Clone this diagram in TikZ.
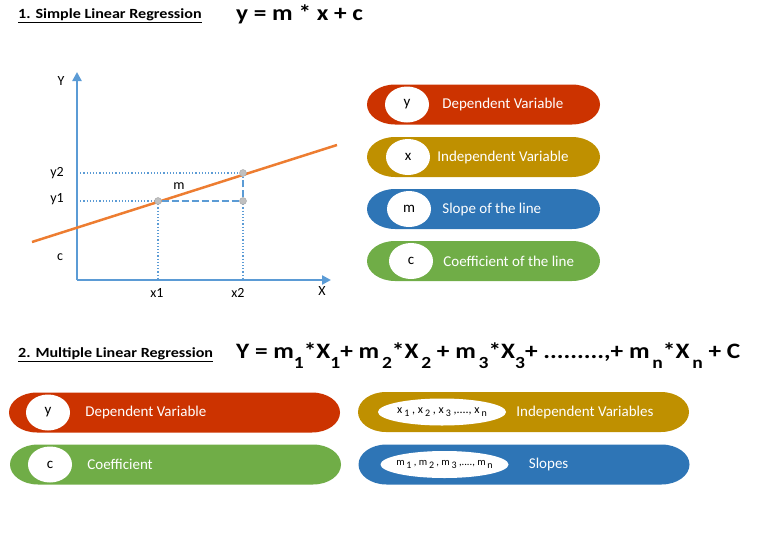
\documentclass[tikz,border=0pt]{standalone}
\usepackage{fontspec}
\setmainfont{Carlito}
\newfontfamily\widefont{Carlito}[FakeStretch=1.15]
\usetikzlibrary{positioning,shapes.geometric,arrows.meta}
\definecolor{RegRed}{RGB}{204,51,0}
\definecolor{RegGold}{RGB}{191,144,0}
\definecolor{RegBlue}{RGB}{46,117,182}
\definecolor{RegGreen}{RGB}{112,173,71}
\definecolor{AxisBlue}{RGB}{91,155,213}
\definecolor{LineOrange}{RGB}{237,125,49}
\definecolor{DotGray}{RGB}{165,165,165}
\newcommand{\lowsub}[1]{\raisebox{-10pt}{\fontsize{17}{17}\selectfont #1}}
\newcommand{\knobsub}[1]{\,\raisebox{-3pt}{\fontsize{10}{11}\selectfont #1}}

\begin{document}
\begin{tikzpicture}[x=1pt, y=-1pt,
  every node/.style={font=\fontsize{14}{16}\selectfont},
  heading/.style={font=\fontsize{14}{16}\selectfont\widefont\bfseries, anchor=base west, inner sep=0pt},
  formula/.style={font=\fontsize{22}{24}\selectfont\widefont\bfseries, anchor=base west, inner sep=0pt},
  axis/.style={-{Triangle[length=9pt, width=9pt]}, line width=2.5pt, AxisBlue},
  guide/.style={AxisBlue, line width=1.2pt, dotted},
  rise/.style={AxisBlue, line width=2.5pt, dash pattern=on 7pt off 3pt},
  fitline/.style={LineOrange, line width=2.5pt},
  dot/.style={circle, fill=DotGray!70, draw=DotGray, minimum size=7pt, inner sep=0pt},
  pill/.style={minimum width=233pt, minimum height=40pt, inner sep=0pt,
    path picture={\fill[#1] ([xshift=28pt]path picture bounding box.north west)
      -- ([xshift=-28pt]path picture bounding box.north east)
      arc[start angle=90, end angle=-90, x radius=28pt, y radius=20pt]
      -- ([xshift=28pt]path picture bounding box.south west)
      arc[start angle=270, end angle=90, x radius=28pt, y radius=20pt] -- cycle;}},
  widepill/.style={pill=#1, minimum width=331pt},
  knob/.style={ellipse, fill=white, minimum width=44pt, minimum height=36pt, inner sep=0pt, font=\fontsize{15}{17}\selectfont},
  wideknob/.style={ellipse, fill=white, minimum width=128pt, minimum height=27pt, inner xsep=-20pt, inner ysep=0pt, font=\fontsize{12}{13}\selectfont},
  pilltext/.style={text=white, font=\fontsize{15}{17}\selectfont, anchor=west, inner sep=0pt}
]
\useasboundingbox (0,0) rectangle (769,536);

% section 1
\node[heading] (t1) at (18,18) {\underline{1. Simple Linear Regression}};
\node[formula] (f1) at (236,20) {y = m * x + c};

% chart
\coordinate (org) at (77,280);
\coordinate (ytip) at (77,72);
\coordinate (xtip) at (331,280);
\coordinate (lstart) at (32,242);
\coordinate (lend) at (337,145);
\coordinate (h1) at (77,201);
\coordinate (h2) at (77,173);
\coordinate (v1) at (158,280);
\coordinate (v2) at (243,280);
\draw[guide] (h2) -- (243,173);
\draw[guide] (h1) -- (158,201);
\draw[guide] (158,201) -- (v1);
\draw[guide] (243,201) -- (v2);
\draw[axis] (org) -- (ytip);
\draw[axis] (org) -- (xtip);
\draw[fitline] (lstart) -- (lend);
\node[dot] (p1) at (158,201) {};
\node[dot] (p2) at (243,173) {};
\node[dot] (p3) at (243,201) {};
\draw[rise] (p1) -- (p3);
\draw[rise] (p3) -- (p2);
\node (ly) at (61,81) {Y};
\node (lx) at (322,291) {X};
\node (ly2) at (57,173) {y2};
\node (ly1) at (57,199) {y1};
\node (lc) at (60,257) {c};
\node (lm) at (179,186) {m};
\node (lx1) at (157,293) {x1};
\node (lx2) at (238,293) {x2};

% legend 1
\node[pill=RegRed] (s1) at (483.5,104.5) {};
\node[knob, right=18pt of s1.west, anchor=west] (k1) {y};
\node[pilltext, right=13pt of k1] {Dependent Variable};
\node[pill=RegGold] (s2) at (483.5,157) {};
\node[knob, right=19pt of s2.west, anchor=west] (k2) {x};
\node[pilltext, right=7pt of k2] {Independent Variable};
\node[pill=RegBlue] (s3) at (483.5,209) {};
\node[knob, right=20pt of s3.west, anchor=west] (k3) {m};
\node[pilltext, right=11pt of k3] {Slope of the line};
\node[pill=RegGreen] (s4) at (483.5,261) {};
\node[knob, right=22pt of s4.west, anchor=west] (k4) {c};
\node[pilltext, right=10pt of k4] {Coefficient of the line};

% section 2
\node[heading] (t2) at (18,357) {\underline{2. Multiple Linear Regression}};
\node[formula] (f2) at (236,358) {Y = m\lowsub{1}*X\lowsub{1}+ m\lowsub{\,2}*X\lowsub{\,2} + m\lowsub{\,3}*X\lowsub{3}+ .........,+ m\lowsub{\,n}*X\lowsub{\,n} + C};

% legend 2
\node[widepill=RegRed] (b1) at (174.5,412.5) {};
\node[knob, right=17pt of b1.west, anchor=west] (q1) {y};
\node[pilltext, right=15pt of q1] {Dependent Variable};
\node[widepill=RegGreen] (b2) at (175.5,464.5) {};
\node[knob, right=18pt of b2.west, anchor=west] (q2) {c};
\node[pilltext, right=15pt of q2] {Coefficient};
\node[widepill=RegGold] (b3) at (523.5,412) {};
\node[wideknob, right=20pt of b3.west, anchor=west] (q3) {x\knobsub{1} , x\knobsub{2} , x\knobsub{3} ,...., x\knobsub{n}};
\node[pilltext, right=10pt of q3] {Independent Variables};
\node[widepill=RegBlue] (b4) at (524,464.5) {};
\node[wideknob, right=22pt of b4.west, anchor=west, font=\fontsize{10.5}{12}\selectfont] (q4) {m\knobsub{1} , m\knobsub{2} , m\knobsub{3} ,...., m\knobsub{n}};
\node[pilltext, right=20pt of q4] {Slopes};
\end{tikzpicture}
\end{document}
